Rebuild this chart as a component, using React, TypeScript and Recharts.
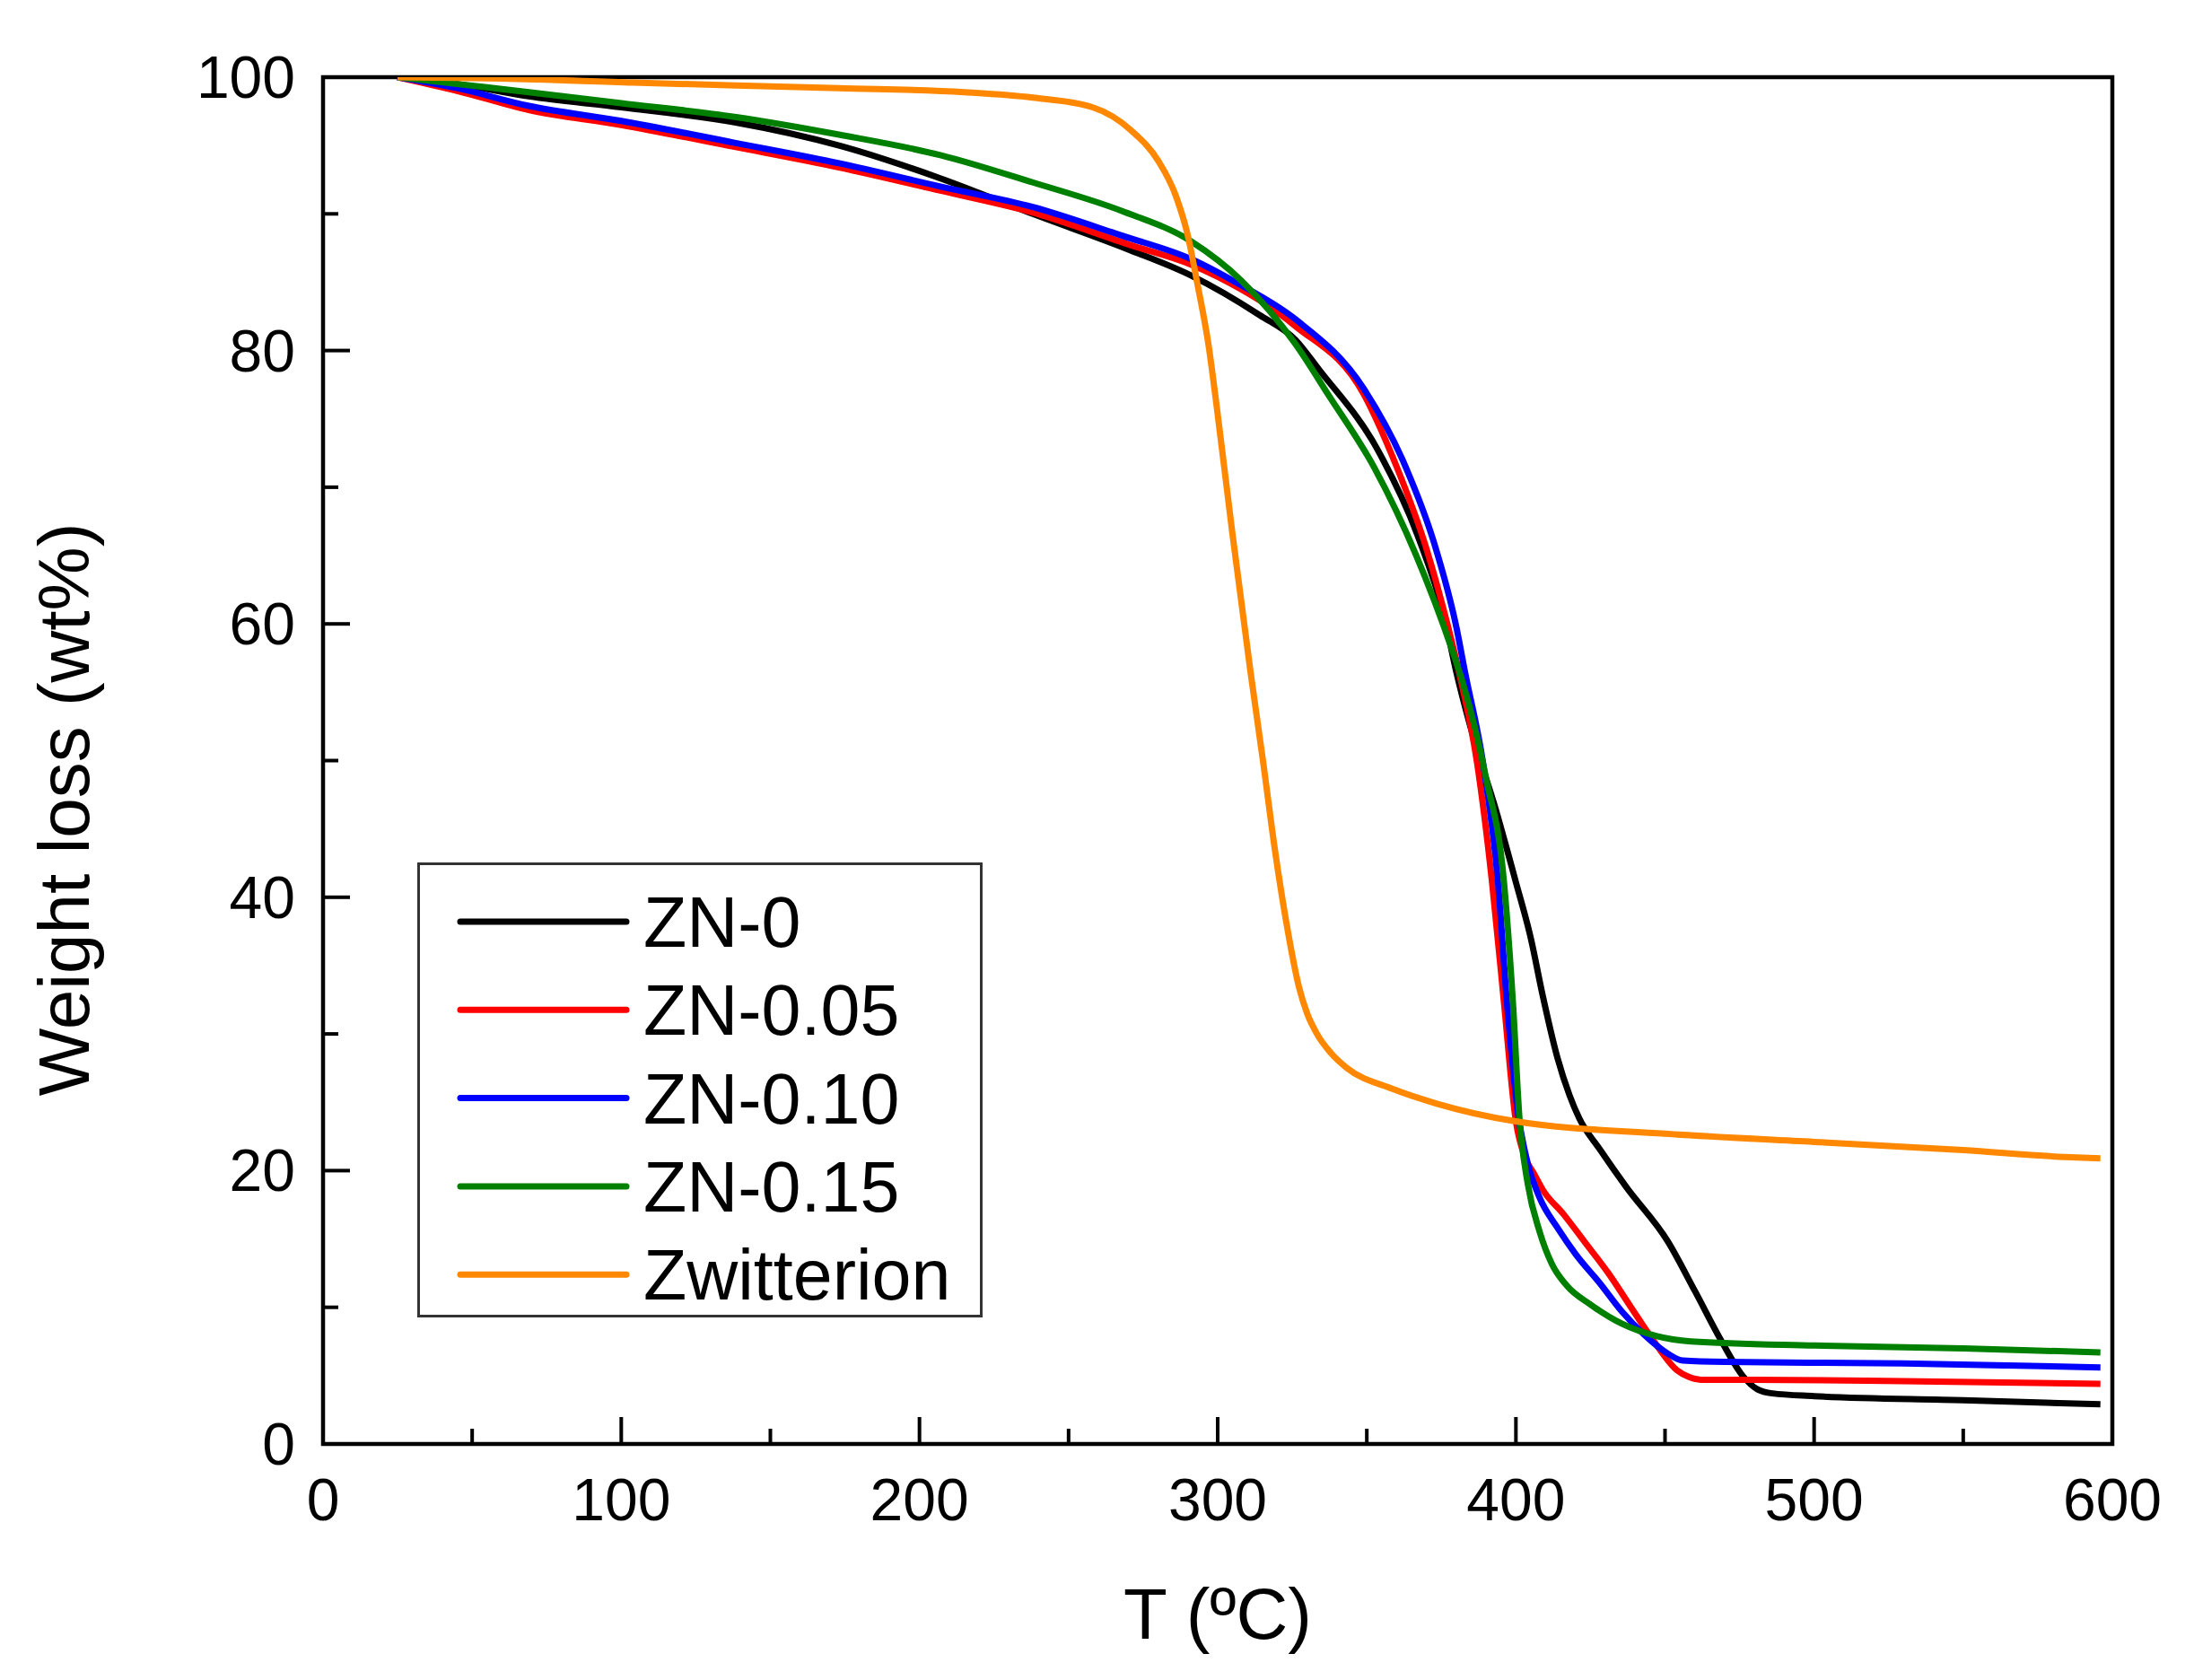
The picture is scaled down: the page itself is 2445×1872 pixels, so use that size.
import React from 'react';
import { LineChart, Line, XAxis, YAxis, ReferenceArea, Legend } from 'recharts';

const FONT = '"Liberation Sans", Arial, Helvetica, sans-serif';

const X_TICKS = [0, 50, 100, 150, 200, 250, 300, 350, 400, 450, 500, 550, 600];
const Y_TICKS = [0, 10, 20, 30, 40, 50, 60, 70, 80, 90, 100];

const SERIES_NAMES = ['ZN-0', 'ZN-0.05', 'ZN-0.10', 'ZN-0.15', 'Zwitterion'];
const SERIES_COLORS = ['#000000', '#ff0000', '#0000ff', '#008000', '#ff8800'];

// [T (ºC), weight (wt%)]
const ZN0: [number, number][] = [
  [25, 100], [45, 99.5], [69, 98.6], [100, 97.8], [138, 96.7], [173, 95.0], [207, 92.6], [238, 90.0],
  [270, 87.4], [291, 85.5], [314, 82.6], [326, 80.8], [334, 78.6], [354, 72.6], [367, 66.5], [376, 60.5],
  [380, 56.5], [386, 51.5], [393, 46.6], [400, 41.1], [405, 37.0], [409, 32.8], [414, 28.2], [418, 25.5],
  [421.3, 23.8], [428, 21.6], [437, 18.8], [451, 14.8], [460, 11.2], [469, 7.5], [476, 5], [481, 4],
  [486, 3.7], [500, 3.5], [550, 3.2], [596, 2.9],
];

const ZN005: [number, number][] = [
  [25, 100], [45, 99], [69, 97.6], [100, 96.5], [138, 94.9], [173, 93.4], [207, 91.7], [238, 90.1],
  [271, 87.7], [291, 86.3], [300, 85.4], [326, 81.8], [349, 76.8], [360, 71.5], [370, 65.5], [377, 60],
  [381, 56.4], [387, 49.8], [392, 41.1], [396, 32.3], [400, 23.6], [403, 21], [406, 19.8], [409, 18.6],
  [416, 16.8], [423, 14.8], [431, 12.5], [438.6, 10], [446, 7.6], [454, 5.4], [458, 4.9], [462, 4.7],
  [480, 4.7], [530, 4.6], [596, 4.4],
];

const ZN010: [number, number][] = [
  [25, 100], [45, 99.2], [69, 97.9], [100, 96.8], [138, 95.2], [173, 93.7], [207, 92.0], [238, 90.5],
  [268, 88.4], [291, 86.7], [306, 85.0], [326, 82.3], [349, 77.2], [363, 71.5], [372.6, 65.9], [380, 59.8],
  [383, 56.4], [389, 49.8], [394, 41.1], [397, 32.3], [400.7, 24.2], [404, 20.5], [408, 18], [414, 15.8],
  [420, 13.9], [428, 11.8], [435.5, 9.7], [443, 8], [451, 6.6], [456, 6.1], [470, 6.0], [530, 5.9], [596, 5.6],
];

const ZN015: [number, number][] = [
  [25, 100], [45, 99.5], [69, 98.9], [100, 98.1], [138, 97.1], [173, 95.8], [207, 94.3], [238, 92.3],
  [268, 90.2], [291, 88.0], [308, 85.1], [326, 80.5], [337, 76.8], [352.6, 71.4], [366.4, 65.1], [378.6, 58.1],
  [381.2, 56.4], [390, 48.7], [396, 41.1], [399, 32.3], [401.2, 23.8], [404, 19], [408, 15.5],
  [412, 13.2], [417, 11.6], [425, 10.2], [435.5, 8.8], [447, 7.9], [458.7, 7.5], [500, 7.2], [550, 7.0], [596, 6.7],
];

const ZWITTERION: [number, number][] = [
  [25, 100], [60, 99.9], [104, 99.6], [173, 99.2], [215, 98.9], [238, 98.5], [258, 97.8], [271, 96.1],
  [280, 93.9], [286, 91.3], [290, 88.4], [293, 85.1], [297, 80.3], [299.5, 76.2], [305, 66.5], [311, 56.5],
  [315.3, 49.8], [319.3, 43.3], [323.3, 37.8], [327.3, 33.4], [330, 31.5], [333.3, 30.0], [338, 28.6],
  [343.4, 27.5], [358.4, 26], [373.5, 24.9], [400, 23.6], [450, 22.7], [500, 22.1], [550, 21.5], [584, 21], [596, 20.9],
];

const SERIES_DATA = [ZN0, ZN005, ZN010, ZN015, ZWITTERION];

const toPoints = (arr: [number, number][]) => arr.map(([t, w]) => ({ t, w }));

const XTick = (props: any) => {
  const { x, y, payload } = props;
  const v = payload.value;
  const major = v % 100 === 0;
  const len = major ? 30 : 17;
  return (
    <g>
      {v > 0 && v < 600 && (
        <line x1={x} x2={x} y1={y} y2={y - len} stroke="#000" strokeWidth={4} />
      )}
      {major && (
        <text x={x} y={y + 85} textAnchor="middle" fontSize={66} fontFamily={FONT} fill="#000">
          {v}
        </text>
      )}
    </g>
  );
};

const YTick = (props: any) => {
  const { x, y, payload } = props;
  const v = payload.value;
  const major = v % 20 === 0;
  const len = major ? 30 : 17;
  return (
    <g>
      {v > 0 && v < 100 && (
        <line x1={x} x2={x + len} y1={y} y2={y} stroke="#000" strokeWidth={4} />
      )}
      {major && (
        <text x={x - 31} y={y + 23} textAnchor="end" fontSize={66} fontFamily={FONT} fill="#000">
          {v}
        </text>
      )}
    </g>
  );
};

const LegendBox = () => (
  <svg width={630} height={508} style={{ display: 'block' }}>
    <rect x={1.5} y={1.5} width={627} height={504} fill="#fff" stroke="#333" strokeWidth={3} />
    {SERIES_NAMES.map((name, i) => {
      const cy = 66 + i * 98.3;
      return (
        <g key={name}>
          <line x1={48} x2={233} y1={cy} y2={cy} stroke={SERIES_COLORS[i]} strokeWidth={7} strokeLinecap="round" />
          <text x={252} y={cy + 28} fontSize={79} fontFamily={FONT} fill="#000">
            {name}
          </text>
        </g>
      );
    })}
  </svg>
);

export default function App() {
  return (
    <div style={{ position: 'absolute', left: 0, top: 0, width: 2445, height: 1872, background: '#fff' }}>
      <LineChart width={2445} height={1872} margin={{ top: 86, right: 91, bottom: 0, left: 0 }}>
        <XAxis
          type="number"
          dataKey="t"
          domain={[0, 600]}
          ticks={X_TICKS}
          interval={0}
          height={263}
          tickSize={0}
          tickMargin={0}
          tickLine={false}
          axisLine={false}
          tick={<XTick />}
          allowDataOverflow
          label={() => (
            <text x={1357} y={1826} textAnchor="middle" fontSize={80} fontFamily={FONT} fill="#000">
              T (ºC)
            </text>
          )}
        />
        <YAxis
          type="number"
          dataKey="w"
          domain={[0, 100]}
          ticks={Y_TICKS}
          interval={0}
          width={360}
          tickSize={0}
          tickMargin={0}
          tickLine={false}
          axisLine={false}
          tick={<YTick />}
          allowDataOverflow
          label={() => (
            <text
              transform="translate(99,902) rotate(-90)"
              textAnchor="middle"
              fontSize={80}
              fontFamily={FONT}
              fill="#000"
            >
              Weight loss (wt%)
            </text>
          )}
        />
        <ReferenceArea x1={0} x2={600} y1={0} y2={100} fill="none" stroke="#000" strokeWidth={4.5} />
        {SERIES_DATA.map((arr, i) => (
          <Line
            key={SERIES_NAMES[i]}
            name={SERIES_NAMES[i]}
            data={toPoints(arr)}
            dataKey="w"
            type="monotone"
            stroke={SERIES_COLORS[i]}
            strokeWidth={7}
            dot={false}
            activeDot={false}
            isAnimationActive={false}
            strokeLinejoin="round"
          />
        ))}
        <Legend
          layout="vertical"
          align="center"
          verticalAlign="middle"
          wrapperStyle={{ left: 465, top: 961, width: 630, height: 508, margin: 0, padding: 0 }}
          content={() => <LegendBox />}
        />
      </LineChart>
    </div>
  );
}
